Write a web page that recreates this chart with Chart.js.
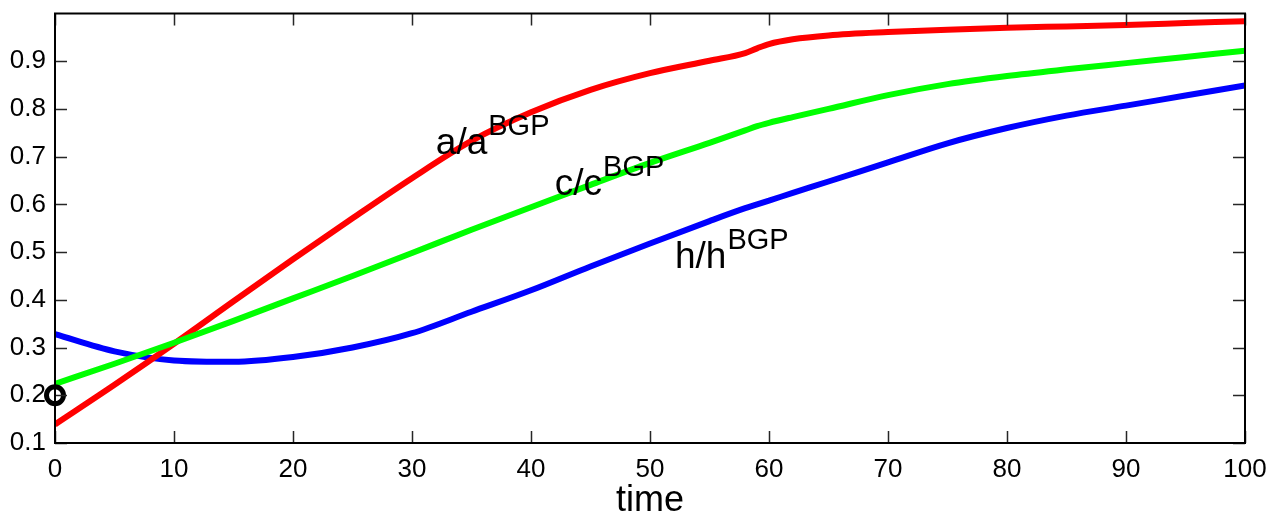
<!DOCTYPE html>
<html>
<head>
<meta charset="utf-8">
<script src="https://cdn.jsdelivr.net/npm/chart.js@4.4.0/dist/chart.umd.min.js"></script>
<style>
	html, body { margin: 0; padding: 0; background: #fff; }
	#wrap { width: 1283px; height: 523px; }
</style>
</head>
<body>
<div id="wrap"><canvas id="plot"></canvas></div>
<script>
const times  = [0, 5, 10, 15, 20, 25, 30, 35, 40, 45, 50, 55, 58, 59, 60, 62, 65, 70, 75, 80, 85, 90, 95, 100];
const aRatio = [0.139, 0.222, 0.308, 0.397, 0.485, 0.571, 0.655, 0.733, 0.793, 0.840, 0.875, 0.901, 0.917, 0.927, 0.936, 0.946, 0.954, 0.961, 0.966, 0.970, 0.973, 0.976, 0.980, 0.984];
const cRatio = [0.224, 0.266, 0.310, 0.356, 0.403, 0.450, 0.498, 0.547, 0.594, 0.641, 0.687, 0.729, 0.755, 0.764, 0.771, 0.783, 0.800, 0.829, 0.852, 0.869, 0.883, 0.896, 0.909, 0.922];
const hRatio = [0.328, 0.292, 0.273, 0.270, 0.280, 0.300, 0.330, 0.375, 0.420, 0.470, 0.518, 0.565, 0.592, 0.600, 0.608, 0.624, 0.648, 0.688, 0.728, 0.760, 0.786, 0.807, 0.828, 0.849];
const startPoint = [{x: 0, y: 0.2}];
const xTicks = [0, 10, 20, 30, 40, 50, 60, 70, 80, 90, 100];
const yTicks = [0.1, 0.2, 0.3, 0.4, 0.5, 0.6, 0.7, 0.8, 0.9];
const curveLabels = [
	{base: 'a/a', sup: 'BGP', x: 32.0, y: 0.705},
	{base: 'c/c', sup: 'BGP', x: 42.0, y: 0.619},
	{base: 'h/h', sup: 'BGP', x: 52.1, y: 0.466}
];

const FONT = "'Liberation Sans', Arial, Helvetica, sans-serif";

function toPoints(ys) {
	return times.map((t, i) => ({x: t, y: ys[i]}));
}

// box round the plot area with inward ticks on all four sides
const frame = {
	id: 'frame',
	afterDatasetsDraw(chart) {
		const {ctx, chartArea: a, scales} = chart;
		const len = 12;
		ctx.save();
		ctx.strokeStyle = '#262626';
		ctx.lineWidth = 1.5;
		ctx.beginPath();
		xTicks.forEach(v => {
			const px = Math.round(scales.x.getPixelForValue(v)) + 0.5;
			ctx.moveTo(px, a.bottom); ctx.lineTo(px, a.bottom - len);
			ctx.moveTo(px, a.top); ctx.lineTo(px, a.top + len);
		});
		yTicks.forEach(v => {
			const py = Math.round(scales.y.getPixelForValue(v)) + 0.5;
			ctx.moveTo(a.left, py); ctx.lineTo(a.left + len, py);
			ctx.moveTo(a.right, py); ctx.lineTo(a.right - len, py);
		});
		ctx.stroke();
		ctx.strokeStyle = '#000';
		ctx.lineWidth = 2;
		ctx.strokeRect(a.left, a.top, a.right - a.left, a.bottom - a.top);
		ctx.restore();
	}
};

const labelText = {
	id: 'labelText',
	afterDraw(chart) {
		const {ctx, scales} = chart;
		ctx.save();
		ctx.fillStyle = '#000';
		ctx.textBaseline = 'alphabetic';
		ctx.textAlign = 'left';
		curveLabels.forEach(l => {
			const px = scales.x.getPixelForValue(l.x);
			const py = scales.y.getPixelForValue(l.y);
			ctx.font = '37px ' + FONT;
			ctx.fillText(l.base, px, py);
			const w = ctx.measureText(l.base).width;
			ctx.font = '29px ' + FONT;
			ctx.fillText(l.sup, px + w + 1, py - 19);
		});
		ctx.restore();
	}
};

new Chart(document.getElementById('plot'), {
	type: 'line',
	data: {
		datasets: [
			{
				label: 'marker',
				data: startPoint,
				showLine: false,
				pointRadius: 8.5,
				pointBorderWidth: 5,
				pointBorderColor: '#000',
				pointBackgroundColor: 'rgba(0,0,0,0)',
				clip: false,
				order: 0
			},
			{
				label: 'c/c BGP',
				data: toPoints(cRatio),
				borderColor: 'rgb(0, 255, 0)',
				borderWidth: 6,
				pointRadius: 0,
				cubicInterpolationMode: 'monotone',
				order: 1
			},
			{
				label: 'a/a BGP',
				data: toPoints(aRatio),
				borderColor: 'rgb(255, 0, 0)',
				borderWidth: 6,
				pointRadius: 0,
				cubicInterpolationMode: 'monotone',
				order: 2
			},
			{
				label: 'h/h BGP',
				data: toPoints(hRatio),
				borderColor: 'rgb(0, 0, 255)',
				borderWidth: 6,
				pointRadius: 0,
				cubicInterpolationMode: 'monotone',
				order: 3
			}
		]
	},
	options: {
		responsive: true,
		maintainAspectRatio: false,
		animation: false,
		layout: {padding: {top: 10, right: 38, left: 0, bottom: 0}},
		plugins: {legend: {display: false}, tooltip: {enabled: false}},
		scales: {
			x: {
				type: 'linear',
				min: 0,
				max: 100,
				grid: {display: false},
				border: {display: false},
				ticks: {
					stepSize: 10,
					padding: 3,
					color: '#000',
					font: {family: FONT, size: 26}
				},
				title: {
					display: true,
					text: 'time',
					color: '#000',
					font: {family: FONT, size: 36},
					padding: 0
				},
				afterFit(scale) {
					scale.height = 80;
					scale.paddingLeft = 0;
					scale.paddingRight = 0;
				}
			},
			y: {
				type: 'linear',
				min: 0.1,
				max: 1.0,
				grid: {display: false},
				border: {display: false},
				ticks: {
					stepSize: 0.1,
					padding: 1,
					color: '#000',
					font: {family: FONT, size: 26},
					callback: v => v > 0.95 ? '' : v.toFixed(1)
				},
				afterFit(scale) {
					scale.width = 55;
					scale.paddingTop = 0;
					scale.paddingBottom = 0;
				}
			}
		}
	},
	plugins: [frame, labelText]
});
</script>
</body>
</html>
